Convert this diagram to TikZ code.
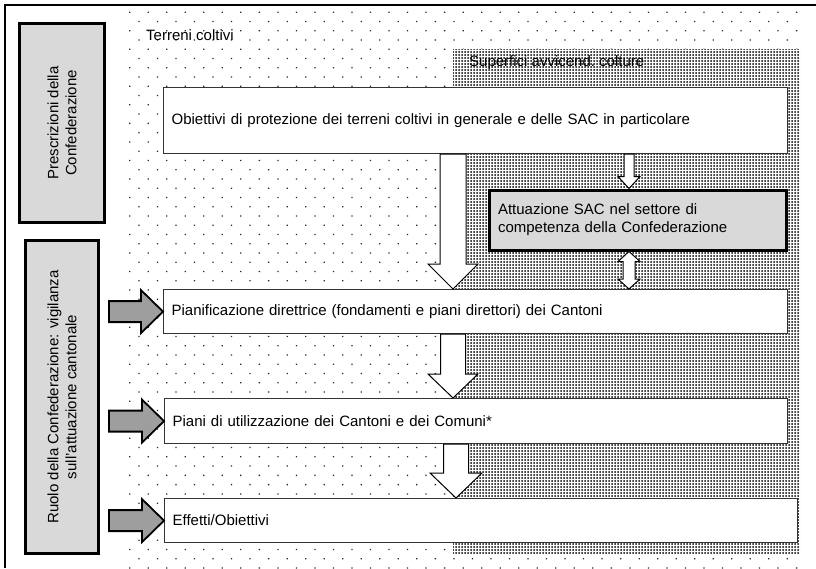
\documentclass[tikz,border=0pt]{standalone}
\usepackage{fontspec}
\setmainfont{Liberation Sans}
\usetikzlibrary{calc,patterns.meta}
\definecolor{boxgray}{gray}{0.85}
\definecolor{arrowgray}{gray}{0.62}
\tikzset{
  txt/.style={font=\fontsize{15}{18}\selectfont},
  wbox/.style={txt, draw=black!80, line width=1.2pt, fill=white, anchor=north west,
    inner xsep=8pt, inner ysep=0pt, align=left},
  gbox/.style={txt, draw, line width=3pt, fill=boxgray, align=center},
  barrow/.style={draw, line width=1pt, fill=white},
  garrow/.style={draw, line width=1.8pt, fill=arrowgray},
}
% white block arrow downwards: x, from, to, shaft half, head half, head length
\newcommand{\blockdown}[6]{
\draw[barrow] let \p1=(#2.south), \p2=(#3.north) in
  (#1pt-#4pt,\y1) -- (#1pt+#4pt,\y1) -- (#1pt+#4pt,\y2+#6pt) -- (#1pt+#5pt,\y2+#6pt)
  -- (#1pt,\y2) -- (#1pt-#5pt,\y2+#6pt) -- (#1pt-#4pt,\y2+#6pt) -- cycle;
}
% white block arrow with two heads
\newcommand{\blockboth}[6]{
\draw[barrow] let \p1=(#2.south), \p2=(#3.north) in
  (#1pt,\y1) -- (#1pt+#5pt,\y1-#6pt) -- (#1pt+#4pt,\y1-#6pt) -- (#1pt+#4pt,\y2+#6pt)
  -- (#1pt+#5pt,\y2+#6pt) -- (#1pt,\y2) -- (#1pt-#5pt,\y2+#6pt) -- (#1pt-#4pt,\y2+#6pt)
  -- (#1pt-#4pt,\y1-#6pt) -- (#1pt-#5pt,\y1-#6pt) -- cycle;
}
% grey arrow from the left margin into a box
\newcommand{\feedarrow}[1]{
\draw[garrow] let \p1=(#1.west) in
  (109pt,\y1+10.5pt) -- (\x1-22pt,\y1+10.5pt) -- (\x1-22pt,\y1+21.5pt) -- (\x1,\y1)
  -- (\x1-22pt,\y1-21.5pt) -- (\x1-22pt,\y1-10.5pt) -- (109pt,\y1-10.5pt) -- cycle;
}

\begin{document}
\begin{tikzpicture}[x=1pt,y=-1pt]
\useasboundingbox (0,0) rectangle (816,568);

% areas
\fill[pattern={Dots[distance=13.1pt,angle=45,radius=0.9pt]}, pattern color=black!85]
  (127,10) rectangle (805,568);
\fill[white] (453,49) rectangle (800,553);
\fill[pattern={Dots[distance=3pt,radius=1pt]}, pattern color=black]
  (453,49) rectangle (800,553);
\node[txt, anchor=west, inner sep=0pt] (terreni) at (146,35) {Terreni coltivi};
\node[txt, anchor=west, inner sep=0pt] (sac) at (469,63) {Superfici avvicend.\ colture};

% frame
\draw[line width=2pt] (5,568) -- (5,5) -- (816,5);

% left column
\node[gbox, rotate=90, minimum width=199pt, minimum height=85pt] (presc) at (62,123)
  {Prescrizioni della\\Confederazione};
\node[gbox, rotate=90, minimum width=313pt, minimum height=73pt] (ruolo) at (62,397)
  {Ruolo della Confederazione: vigilanza\\sull'attuazione cantonale};

% boxes
\node[wbox, text width=608pt, minimum height=66pt] (obj) at (163,87)
  {Obiettivi di protezione dei terreni coltivi in generale e delle SAC in particolare};
\node[txt, draw, line width=3pt, fill=boxgray, anchor=north west, align=left,
  inner xsep=9pt, text width=279pt, minimum height=60pt] (att) at (487.5,188.5)
  {Attuazione SAC nel settore di\\competenza della Confederazione};
\node[wbox, text width=608pt, minimum height=44pt] (pian) at (163,289)
  {Pianificazione direttrice (fondamenti e piani direttori) dei Cantoni};
\node[wbox, text width=607pt, minimum height=45pt] (util) at (164,398)
  {Piani di utilizzazione dei Cantoni e dei Comuni*};
\node[wbox, text width=617pt, minimum height=44pt] (eff) at (164,498)
  {Effetti/Obiettivi};

% arrows
\blockdown{453}{obj}{pian}{13}{25}{25}
\blockdown{453}{pian}{util}{12.5}{25}{24}
\blockdown{456}{util}{eff}{12.5}{26}{25}
\blockdown{629}{obj}{att}{5}{11}{12}
\blockboth{629}{att}{pian}{6}{11}{10}
\feedarrow{pian}
\feedarrow{util}
\feedarrow{eff}
\end{tikzpicture}
\end{document}
